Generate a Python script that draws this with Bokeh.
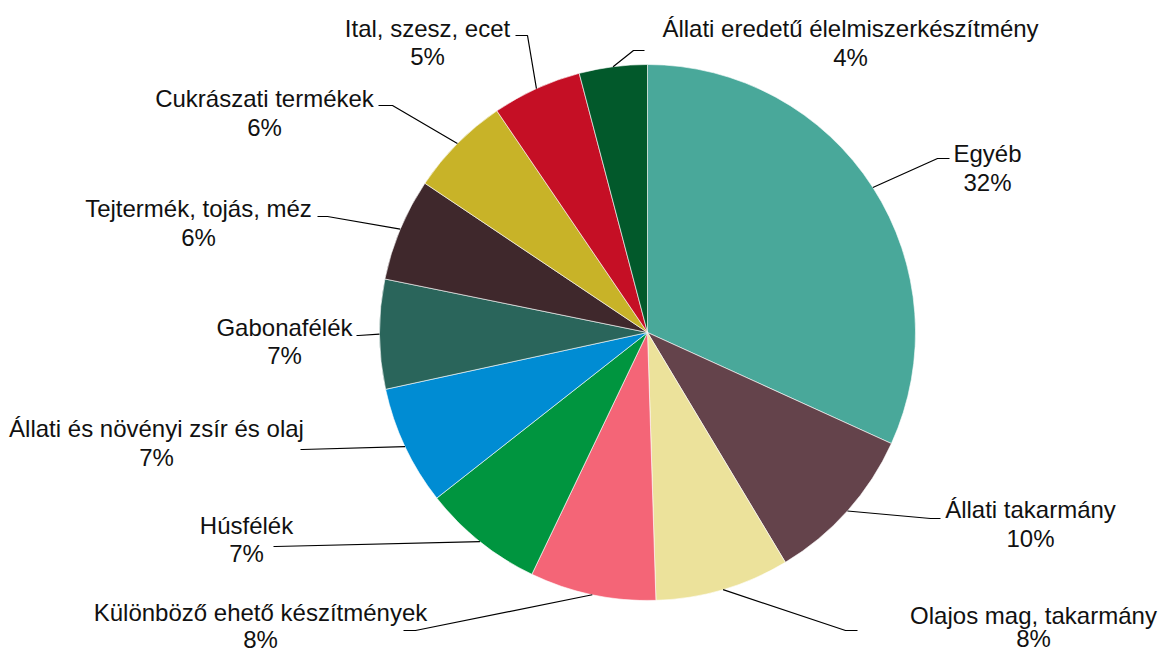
import math
from bokeh.plotting import figure
from bokeh.models import Range1d, ColumnDataSource
from bokeh.core.properties import value
from bokeh.embed import file_html
from bokeh.resources import INLINE

# ---- data ----
categories = [
    "Egyéb",
    "Állati takarmány",
    "Olajos mag, takarmány",
    "Különböző ehető készítmények",
    "Húsfélék",
    "Állati és növényi zsír és olaj",
    "Gabonafélék",
    "Tejtermék, tojás, méz",
    "Cukrászati termékek",
    "Ital, szesz, ecet",
    "Állati eredetű élelmiszerkészítmény",
]
shares = [31.8, 9.6, 8.1, 7.6, 7.3, 7.2, 6.6, 6.2, 6.1, 5.4, 4.1]
colors = ["#49A89A", "#64434B", "#ECE29B", "#F46577", "#00953F", "#008CD3",
          "#2A655B", "#3F282C", "#C8B328", "#C50F25", "#02592B"]

# ---- layout (screen pixels) ----
W, H = 1160, 655
CX, CY, R = 647, 332, 268
# label name centre (x, y) in screen pixels
label_pos = [(987, 153), (1030, 509), (1033, 615), (260, 612), (246, 525),
             (156, 428), (284, 327), (198, 208), (264, 98), (427, 28), (850, 28)]
pct_dy = [29, 29, 23, 27, 28, 29, 28, 29, 29, 28, 29]
# leader elbow and end points in screen pixels
leader_elbow = [(937, 158), (930, 518), (845, 630), (415, 630), (275, 546),
                (302, 449), (358, 335), (327, 216), (392, 105), (527, 35), (633, 50)]
leader_end = [(949, 158), (940, 518), (857, 630), (403, 630), (273, 546),
              (300, 449), (356, 335), (317, 216), (378, 105), (515, 35), (644, 50)]


def fy(py):
    # screen y (down) -> data y (up)
    return H - py


total = sum(shares)
starts, ends, mids = [], [], []
acc = 0.0
for s in shares:
    a0 = acc / total
    acc += s
    a1 = acc / total
    starts.append(math.pi / 2 - a0 * 2 * math.pi)
    ends.append(math.pi / 2 - a1 * 2 * math.pi)
    mids.append((a0 + a1) / 2 * 2 * math.pi)

p = figure(width=W, height=H, output_backend="svg", toolbar_location=None,
           x_range=Range1d(0, W), y_range=Range1d(0, H),
           min_border=0, outline_line_color=None)
p.axis.visible = False
p.grid.visible = False
p.background_fill_color = "white"
p.border_fill_color = "white"

src = ColumnDataSource(dict(start=starts, end=ends, color=colors, cat=categories))
p.wedge(x=CX, y=fy(CY), radius=R, start_angle="start", end_angle="end",
        direction="clock", fill_color="color", line_color="white", line_width=0.6,
        source=src)

# leader lines
xs, ys = [], []
for m, e1, e2 in zip(mids, leader_elbow, leader_end):
    sx = CX + R * math.sin(m)
    sy = CY - R * math.cos(m)
    xs.append([sx, e1[0], e2[0]])
    ys.append([fy(sy), fy(e1[1]), fy(e2[1])])
p.multi_line(xs=xs, ys=ys, line_color="black", line_width=1.2)

names_x = [lp[0] for lp in label_pos]
names_y = [fy(lp[1]) for lp in label_pos]
pct_y = [fy(lp[1] + d) for lp, d in zip(label_pos, pct_dy)]
pct_txt = [f"{round(s / total * 100):.0f}%" for s in shares]

p.text(x=names_x, y=names_y, text=categories, text_align="center",
       text_baseline="middle", text_font=value("Liberation Sans"),
       text_font_size="24px", text_color="#111111")
p.text(x=names_x, y=pct_y, text=pct_txt, text_align="center",
       text_baseline="middle", text_font=value("Liberation Sans"),
       text_font_size="24px", text_color="#111111")

open("out.html", "w").write(file_html(p, INLINE))
